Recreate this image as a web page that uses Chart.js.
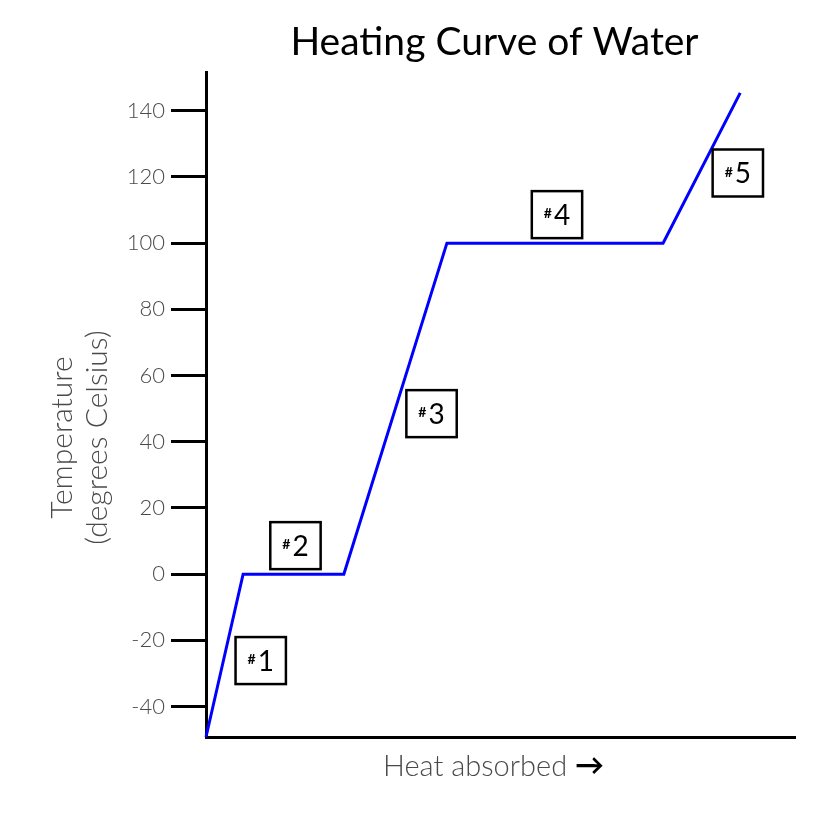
<!DOCTYPE html>
<html><head><meta charset="utf-8">
<script src="https://cdn.jsdelivr.net/npm/chart.js@4.4.0/dist/chart.umd.min.js"></script>
<style>html,body{margin:0;padding:0;background:#fff}#wrap{width:834px;height:832px}</style>
</head><body><div id="wrap"><canvas id="c" width="834" height="832"></canvas></div>
<script>
// ---- data ----
const heat = [0, 6.3, 23.4, 40.9, 77.6, 90.7];
const temperature = [-49.2, 0, 0, 100, 100, 145.4];
const phaseLabels = ['#1', '#2', '#3', '#4', '#5'];
const yTicks = [-40, -20, 0, 20, 40, 60, 80, 100, 120, 140];
const chartTitle = 'Heating Curve of Water';
const xTitle = 'Heat absorbed';
const xArrow = '\u2192';
const yTitle = ['Temperature', '(degrees Celsius)'];

const FONT = 'Lato, "Open Sans", sans-serif';
const GRAY = '#4a4a4a';

const decor = {
  id: 'decor',
  afterDatasetsDraw(chart) {
    const ctx = chart.ctx, xs = chart.scales.x, ys = chart.scales.y;
    ctx.save();
    for (let i = 0; i < phaseLabels.length; i++) {
      const x1 = xs.getPixelForValue(heat[i]), y1 = ys.getPixelForValue(temperature[i]);
      const x2 = xs.getPixelForValue(heat[i + 1]), y2 = ys.getPixelForValue(temperature[i + 1]);
      const mx = (x1 + x2) / 2, my = (y1 + y2) / 2;
      const flat = temperature[i] === temperature[i + 1];
      const hash = phaseLabels[i].charAt(0), num = phaseLabels[i].slice(1);
      ctx.font = 'bold 14px ' + FONT;
      const hw = ctx.measureText(hash).width;
      ctx.font = '28px ' + FONT;
      const nw = ctx.measureText(num).width;
      const gap = 2, tw = hw + gap + nw;
      const bw = Math.max(40, tw + 24), bh = 47;
      let bx, by;
      if (flat) { bx = mx + 2 - bw / 2; by = y1 - 5 - bh; }
      else { bx = mx + 11; by = my + 5 - bh / 2; }
      ctx.fillStyle = '#fff';
      ctx.fillRect(bx, by, bw, bh);
      ctx.strokeStyle = '#000';
      ctx.lineWidth = 2.5;
      ctx.strokeRect(bx, by, bw, bh);
      const tx = bx + (bw - tw) / 2, cy = by + bh / 2;
      ctx.fillStyle = '#000';
      ctx.textBaseline = 'middle';
      ctx.textAlign = 'left';
      ctx.font = 'bold 14px ' + FONT;
      ctx.fillText(hash, tx, cy - 1);
      ctx.font = '28px ' + FONT;
      ctx.fillText(num, tx + hw + gap, cy + 1);
    }
    ctx.restore();
  },
  afterDraw(chart) {
    const ctx = chart.ctx, ca = chart.chartArea;
    const cx = (ca.left + ca.right) / 2;
    ctx.save();
    // title
    ctx.font = '39px ' + FONT;
    ctx.fillStyle = '#000';
    ctx.textAlign = 'center';
    ctx.textBaseline = 'middle';
    ctx.fillText(chartTitle, cx - 6, 42);
    // x title
    ctx.font = '300 29px ' + FONT;
    const w1 = ctx.measureText(xTitle + ' ').width;
    ctx.font = 'bold 29px ' + FONT;
    const w2 = ctx.measureText(xArrow).width;
    let sx = cx - 7 - (w1 + w2) / 2;
    ctx.textAlign = 'left';
    ctx.font = '300 29px ' + FONT;
    ctx.fillStyle = GRAY;
    ctx.fillText(xTitle + ' ', sx, ca.bottom + 30);
    ctx.font = 'bold 29px ' + FONT;
    ctx.fillStyle = '#000';
    ctx.fillText(xArrow, sx + w1, ca.bottom + 29);
    // y title
    ctx.translate(0, (ca.top + ca.bottom) / 2 + 33);
    ctx.rotate(-Math.PI / 2);
    ctx.textAlign = 'center';
    ctx.font = '300 30px ' + FONT;
    ctx.fillStyle = GRAY;
    ctx.fillText(yTitle[0], 0, 62);
    ctx.fillText(yTitle[1], 0, 97);
    ctx.restore();
  }
};

new Chart(document.getElementById('c'), {
  type: 'line',
  data: {
    datasets: [{
      data: heat.map((x, i) => ({ x: x, y: temperature[i] })),
      borderColor: '#0000ff',
      borderWidth: 3,
      pointRadius: 0,
      tension: 0,
      clip: false
    }]
  },
  options: {
    responsive: false,
    animation: false,
    devicePixelRatio: 1,
    layout: { padding: { top: 72, right: 39, left: 0, bottom: 0 } },
    plugins: { legend: { display: false }, tooltip: { enabled: false }, title: { display: false } },
    scales: {
      x: {
        type: 'linear', min: 0, max: 100,
        ticks: { display: false },
        grid: { display: false },
        border: { display: true, color: '#000', width: 3 },
        afterFit: s => { s.height = 95; }
      },
      y: {
        type: 'linear', min: -49.2, max: 151.7,
        afterBuildTicks: s => { s.ticks = yTicks.map(v => ({ value: v })); },
        ticks: { color: GRAY, padding: 6, font: { family: FONT, size: 22, weight: '300' } },
        grid: { drawOnChartArea: false, drawTicks: true, tickLength: 35, color: '#000', lineWidth: 3 },
        border: { display: true, color: '#000', width: 3 },
        afterFit: s => { s.width = 206; }
      }
    }
  },
  plugins: [decor]
});
</script>
</body></html>
